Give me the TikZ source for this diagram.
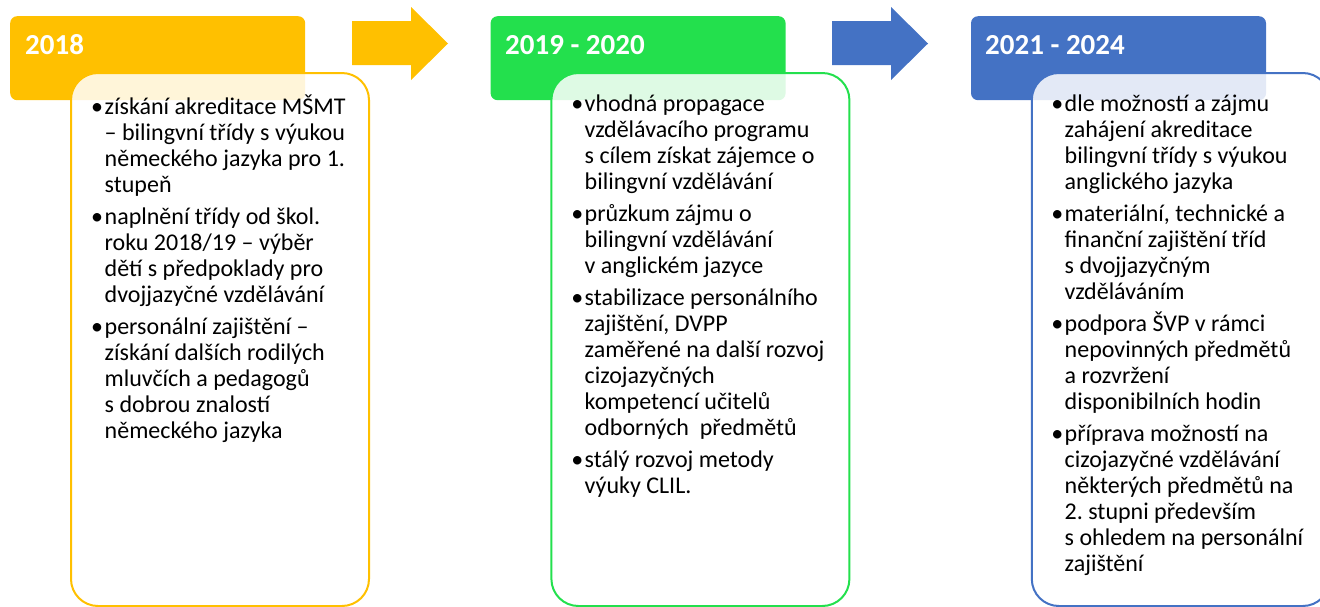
\documentclass[tikz,border=0pt]{standalone}
\usepackage{fontspec}
\setmainfont{Carlito}
\frenchspacing
\usetikzlibrary{positioning}
\definecolor{gold}{HTML}{FFC000}
\definecolor{leaf}{HTML}{23E04D}
\definecolor{steel}{HTML}{4472C4}
\tikzstyle{head}=[rectangle, rounded corners=7pt, minimum width=295pt, minimum height=84pt, inner sep=0pt]
\tikzstyle{year}=[text=white, font=\fontsize{29}{34}\selectfont\bfseries, anchor=west, inner sep=0pt]
\tikzstyle{card}=[rectangle, rounded corners=27pt, line width=2pt, fill=white, fill opacity=0.85, minimum width=298pt, minimum height=533pt, anchor=north west]
\tikzstyle{items}=[align=left, anchor=north west, inner sep=0pt, font=\fontsize{24}{26}\selectfont, execute at begin node=\rule{0pt}{20pt}]
\newcommand{\itm}{\llap{\textbullet\kern1.5pt}}

\begin{document}
\begin{tikzpicture}[x=1pt,y=-1pt]
  \useasboundingbox (0,0) rectangle (1320,606);

  % headers
  \node (h1) [head, fill=gold, anchor=north west] at (10,16) {};
  \node (h2) [head, fill=leaf, right=185pt of h1] {};
  \node (h3) [head, fill=steel, right=185pt of h2] {};

  \node (y1) [year] at (25,45) {2018};
  \node (y2) [year] at (505,45) {2019 - 2020};
  \node (y3) [year] at (985,45) {2021 - 2024};

  % arrows between the stages
  \fill[gold] (352,21) -- (411,21) -- (411,7) -- (448,43.5) -- (411,80) -- (411,65) -- (352,65) -- cycle;
  \fill[steel] (832,21) -- (891,21) -- (891,7) -- (928,43.5) -- (891,80) -- (891,65) -- (832,65) -- cycle;

  % cards
  \node (c1) [card, draw=gold] at ([shift={(60pt,-56pt)}]h1.north west) {};
  \node (c2) [card, draw=leaf] at ([shift={(60pt,-56pt)}]h2.north west) {};
  \node (c3) [card, draw=steel] at ([shift={(60pt,-56pt)}]h3.north west) {};

  \node (l1) [items] at (104.5,95) {\itm získání akreditace MŠMT\\
    – bilingvní třídy s výukou\\
    německého jazyka pro 1.\\
    stupeň\\[6pt]
    \itm naplnění třídy od škol.\\
    roku 2018/19 – výběr\\
    dětí s předpoklady pro\\
    dvojjazyčné vzdělávání\\[6pt]
    \itm personální zajištění –\\
    získání dalších rodilých\\
    mluvčích a pedagogů\\
    s dobrou znalostí\\
    německého jazyka};

  \node (l2) [items] at (584.5,95) {\itm vhodná propagace\\
    vzdělávacího programu\\
    s cílem získat zájemce o\\
    bilingvní vzdělávání\\[6pt]
    \itm průzkum zájmu o\\
    bilingvní vzdělávání\\
    v anglickém jazyce\\[6pt]
    \itm stabilizace personálního\\
    zajištění, DVPP\\
    zaměřené na další rozvoj\\
    cizojazyčných\\
    kompetencí učitelů\\
    odborných~ předmětů\\[6pt]
    \itm stálý rozvoj metody\\
    výuky CLIL.};

  \node (l3) [items] at (1064.5,95) {\itm dle možností a zájmu\\
    zahájení akreditace\\
    bilingvní třídy s výukou\\
    anglického jazyka\\[6pt]
    \itm materiální, technické a\\
    finanční zajištění tříd\\
    s dvojjazyčným\\
    vzděláváním\\[6pt]
    \itm podpora ŠVP v rámci\\
    nepovinných předmětů\\
    a rozvržení\\
    disponibilních hodin\\[6pt]
    \itm příprava možností na\\
    cizojazyčné vzdělávání\\
    některých předmětů na\\
    2. stupni především\\
    s ohledem na personální\\
    zajištění};
\end{tikzpicture}
\end{document}
